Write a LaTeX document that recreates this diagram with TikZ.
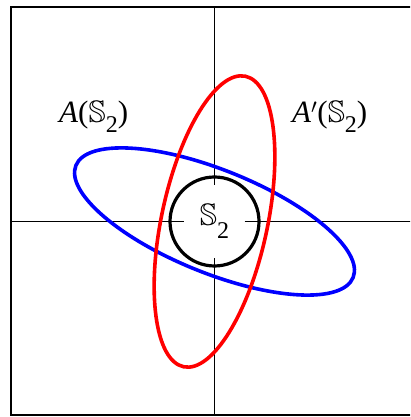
\documentclass[tikz,border=0pt]{standalone}
\usepackage{amsmath,amssymb}
\usepackage{fontspec}
\setmainfont{Liberation Serif}
\usetikzlibrary{positioning}
\tikzset{
  frameline/.style={draw=black, line width=2pt},
  axisline/.style={draw=black, line width=0.8pt},
  unitcircle/.style={draw=black, line width=3.2pt},
  imgA/.style={draw=blue, line width=3.6pt},
  imgAt/.style={draw=red, line width=3.6pt},
  lbl/.style={font=\fontsize{31}{36}\selectfont, inner sep=0pt}
}
\newcommand{\Stwo}[1][10pt]{\(\mathbb{S}\)\raisebox{-#1}{\fontsize{24}{24}\selectfont 2}}

\begin{document}
\begin{tikzpicture}[x=1pt, y=1pt]
  \clip (0,0) rectangle (410,417);

  % frame and centre
  \draw[frameline] (11,2) rectangle (414,410);
  \coordinate (O) at (214.5,195.5);
  \coordinate (top) at (214.5,410);
  \coordinate (bot) at (214.5,2);
  \coordinate (lft) at (11,195.5);
  \coordinate (rgt) at (414,195.5);

  % label of the unit circle (keeps the axes out of it)
  \node[lbl, minimum width=60pt, minimum height=73pt] (S) at (O) {\Stwo[13pt]};

  % axes
  \draw[axisline] (top) -- (S.north);
  \draw[axisline] (S.south) -- (bot);
  \draw[axisline] (lft) -- (S.west);
  \draw[axisline] (S.east) -- (rgt);

  % unit circle and its images
  \draw[unitcircle] (O) circle[radius=44.5];
  \draw[imgA] (O) ellipse[x radius=149.5, y radius=51.5, rotate=-22];
  \draw[imgAt] (O) ellipse[x radius=148.5, y radius=53, rotate=78];

  % labels
  \node[lbl, anchor=base west] (LA) at (59,294) {\textit{A}(\Stwo)};
  \node[lbl, anchor=base west] (LAt) at (292,294) {\textit{A}\('\)(\Stwo)};
\end{tikzpicture}
\end{document}
